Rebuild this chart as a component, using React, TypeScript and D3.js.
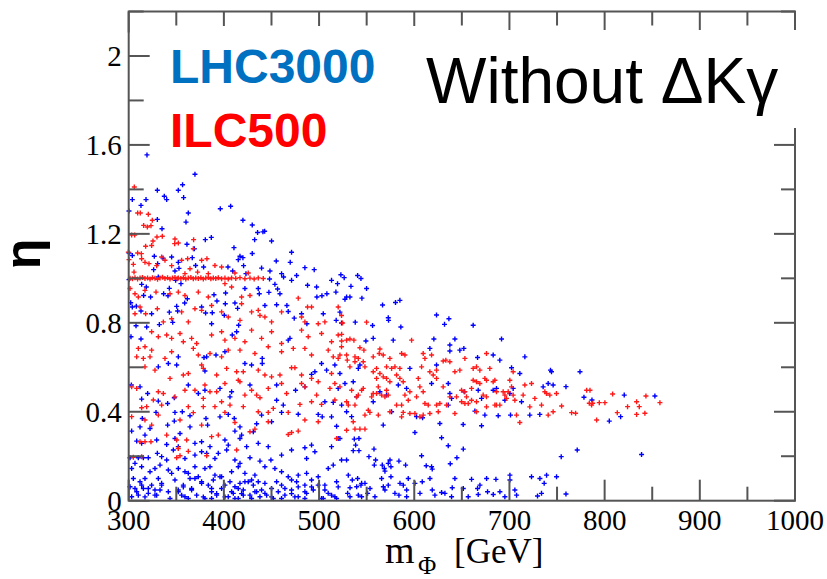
import React from "react";
import * as d3 from "d3";

// ---------- data (m_Phi [GeV], eta) ----------
const lhc3000Upper: [number, number][] = [
  [319.2,1.555],[369.6,1.468],[356.6,1.421],[352.1,1.396],[330.1,1.396],[303.8,1.354],[318.2,1.354],[337.4,1.369],[339.9,1.354],[357.7,1.363],
  [312.9,1.328],[300.3,1.303],[362.6,1.294],[396.2,1.313],[407.1,1.324],[330.1,1.265],[360.2,1.253],[420.0,1.261],[335.0,1.223],[429.8,1.240],
  [435.4,1.206],[441.0,1.209],[442.8,1.212],[380.5,1.174],[386.8,1.184],[432.3,1.174],[450.1,1.168],[361.2,1.153],[410.6,1.138],[471.1,1.117],
  [429.8,1.112],[368.9,1.133],[300.3,1.114],[303.8,1.103],[326.9,1.099],[345.1,1.096],[336.0,1.091],[366.8,1.093],[416.9,1.099],[420.0,1.093],
  [415.1,1.084],[455.0,1.078],[469.7,1.072],[485.1,1.048],[494.9,1.039],[439.6,1.046],[448.4,1.033],[404.3,1.051],[409.2,1.033],[420.7,1.057],
  [423.2,1.021],[352.1,1.072],[352.8,1.045],[348.6,1.033],[378.7,1.051],[370.3,1.058],[330.4,1.066],[326.2,1.039],[460.6,1.021],[476.4,1.013],
  [462.7,1.006],[471.1,0.991],[487.9,0.969],[448.0,0.997],[453.6,0.973],[456.4,0.952],[458.9,0.931],[436.1,0.954],[437.2,0.931],[447.3,0.937],
  [497.4,0.961],[497.7,0.916],[503.0,0.922],[513.1,0.991],[519.4,0.976],[522.9,1.016],[526.4,1.003],[517.7,0.938],[508.2,0.931],[300.3,0.994],
  [331.1,1.006],[313.6,0.973],[318.5,0.961],[342.7,0.955],[349.3,0.991],[354.9,0.976],[336.7,0.931],[341.3,0.922],[315.7,0.923],[323.0,0.916],
  [302.1,0.890],[303.8,0.871],[308.0,0.875],[361.6,0.908],[358.8,0.889],[389.6,0.926],[401.8,0.934],[422.1,0.954],[387.8,0.845],[392.7,0.898],
  [401.5,0.886],[411.6,0.889],[312.9,0.853],[324.1,0.841],[342.7,0.848],[350.4,0.874],[351.4,0.853],[346.2,0.802],[376.6,0.871],[380.8,0.844],
  [400.4,0.834],[414.4,0.865],[443.1,0.878],[455.4,0.881],[466.2,0.878],[467.6,0.851],[473.9,0.821],[481.6,0.841],[487.2,0.796],[504.4,0.841],
  [518.0,0.811],[523.6,0.799],[307.7,0.787],[318.9,0.781],[332.2,0.792],[387.1,0.796],[415.5,0.789],
  [540.5,1.013],[544.0,0.999],[533.5,0.964],[549.9,0.954],[527.2,0.906],[528.9,0.916],[532.4,0.916],[545.0,0.911],[566.7,0.880],[580.3,0.891],
  [584.9,0.901],[521.9,0.848],[538.0,0.803],[556.2,0.788],[572.7,0.823],[573.0,0.811],[585.9,0.781],[623.4,0.835],[636.4,0.818],[631.8,0.793],
  [661.9,0.789],
];

const lhc3000MidLeft: [number, number][] = [
  [302.4,0.737],[312.9,0.727],[352.1,0.647],[379.1,0.644],[381.9,0.647],[391.7,0.655],[401.1,0.670],[408.8,0.745],[413.4,0.760],[422.1,0.617],
  [429.1,0.610],[440.3,0.640],[440.3,0.617],[467.6,0.722],[469.4,0.730],[502.6,0.617],[507.9,0.587],[516.6,0.610],[495.6,0.580],[492.1,0.568],
  [341.6,0.617],[331.1,0.602],[350.4,0.610],[380.1,0.583],[362.6,0.520],[380.1,0.497],[373.1,0.482],[395.9,0.505],[408.1,0.490],[406.4,0.467],
  [427.4,0.520],[455.4,0.520],[462.4,0.430],[455.4,0.452],[475.3,0.497],[485.1,0.512],[506.1,0.445],[520.1,0.505],[514.9,0.442],[302.8,0.520],
  [311.9,0.512],[319.9,0.482],[313.6,0.457],[331.1,0.448],[340.9,0.437],[347.9,0.463],[328.7,0.397],[348.6,0.397],[356.3,0.400],[364.4,0.382],
  [381.2,0.370],[395.9,0.377],[404.6,0.388],[410.9,0.370],[416.9,0.332],[434.4,0.346],[439.6,0.385],[450.1,0.355],[460.6,0.397],[478.1,0.389],
  [499.1,0.388],[503.3,0.377],[513.1,0.377],[518.4,0.335],[314.3,0.370],[303.1,0.313],[311.9,0.332],[322.4,0.325],[340.9,0.340],[347.9,0.358],
  [364.4,0.332],[382.9,0.340],[411.6,0.313],[418.6,0.295],[430.9,0.310],[317.1,0.295],[353.9,0.302],
];

const lhc3000LowLeft: [number, number][] = [
  [308.4,0.268],[313.6,0.258],[329.4,0.273],[339.9,0.253],[348.6,0.280],[352.1,0.243],[369.6,0.258],[376.6,0.265],[385.4,0.243],[401.1,0.273],
  [404.6,0.250],[416.9,0.280],[436.1,0.258],[446.6,0.243],[492.1,0.250],[520.1,0.280],[513.1,0.243],
  [301.4,0.193],[310.1,0.193],[315.4,0.193],[320.6,0.193],[330.1,0.213],[334.6,0.198],[339.9,0.183],[346.9,0.228],[359.1,0.190],[369.6,0.205],
  [376.6,0.220],[381.9,0.213],[390.6,0.190],[394.1,0.213],[402.9,0.228],[411.6,0.183],[416.9,0.168],[423.9,0.243],[427.4,0.193],[437.9,0.178],
  [449.4,0.183],[460.6,0.205],[471.1,0.228],[485.1,0.238],[486.9,0.190],[495.6,0.220],[514.9,0.160],[523.6,0.183],
  [303.1,0.145],[306.6,0.168],[313.6,0.153],[322.4,0.130],[327.6,0.145],[332.9,0.160],[341.6,0.138],[345.1,0.123],[352.1,0.145],[359.1,0.130],
  [362.6,0.123],[369.6,0.153],[373.1,0.108],[380.1,0.145],[385.4,0.153],[390.6,0.115],[397.6,0.108],[408.1,0.130],[415.1,0.153],[422.1,0.123],
  [432.6,0.115],[443.1,0.153],[453.6,0.145],[460.6,0.130],[467.6,0.108],[478.1,0.115],[486.9,0.123],[499.1,0.108],[509.6,0.145],
  [301.4,0.063],[304.9,0.100],[311.9,0.085],[317.1,0.100],[324.1,0.070],[331.1,0.100],[334.6,0.078],[348.6,0.093],[357.4,0.070],[364.4,0.100],
  [369.6,0.100],[376.6,0.085],[383.6,0.070],[388.9,0.093],[395.9,0.108],[401.1,0.070],[406.4,0.085],[411.6,0.063],[416.9,0.078],[422.1,0.085],
  [429.1,0.093],[436.1,0.085],[443.1,0.078],[450.1,0.055],[460.6,0.070],[471.1,0.093],[476.4,0.085],[485.1,0.070],[492.1,0.093],[506.1,0.070],
  [518.4,0.085],
  [303.1,0.018],[308.4,0.040],[315.4,0.055],[320.6,0.033],[327.6,0.025],[332.9,0.048],[343.4,0.010],[352.1,0.040],[359.1,0.018],[366.1,0.048],
  [371.4,0.025],[380.1,0.010],[387.1,0.040],[392.4,0.025],[397.6,0.055],[404.6,0.018],[409.9,0.033],[415.1,0.010],[420.4,0.048],[427.4,0.025],
  [432.6,0.040],[437.9,0.018],[443.1,0.033],[451.9,0.010],[457.1,0.040],[464.1,0.025],[471.1,0.048],[478.1,0.018],[486.9,0.033],[493.9,0.048],
  [502.6,0.010],[509.6,0.033],[516.6,0.018],
  [301.4,0.062],[306.6,0.055],[313.6,0.070],[320.6,0.055],[327.6,0.048],[334.6,0.070],[341.6,0.040],[352.1,0.048],[357.4,0.062],[366.1,0.055],
  [376.6,0.078],[387.1,0.055],[392.4,0.032],[401.1,0.070],[408.1,0.040],[415.1,0.055],[420.4,0.025],[425.6,0.085],[430.9,0.070],[434.4,0.040],
  [439.6,0.048],[444.9,0.025],[455.4,0.085],[464.1,0.055],[471.1,0.032],[478.1,0.062],[485.1,0.040],[492.1,0.062],[499.1,0.070],[506.1,0.048],
  [513.1,0.025],[520.1,0.062],[310.1,0.025],[317.1,0.017],[329.4,0.025],[355.6,0.025],[362.6,0.010],[378.4,0.017],[387.1,0.010],[401.1,0.017],
  [411.6,0.010],[418.6,0.032],[429.1,0.010],[450.1,0.017],[460.6,0.010],[474.6,0.017],[485.1,0.010],[504.4,0.010],[518.4,0.010],
];

const lhc3000Right: [number, number][] = [
  [549.2,0.718],[556.9,0.730],[577.9,0.722],[620.6,0.727],[642.7,0.727],[691.7,0.727],[716.2,0.647],[682.9,0.655],[666.5,0.644],[689.9,0.632],
  [702.2,0.598],[710.9,0.572],[743.1,0.587],[744.2,0.580],[637.4,0.700],[647.9,0.677],[652.1,0.685],[637.4,0.673],[616.4,0.685],[623.4,0.610],
  [595.4,0.595],[583.2,0.520],[591.9,0.505],[618.2,0.527],[635.7,0.527],[637.4,0.482],[639.2,0.460],[652.5,0.490],[667.2,0.497],[670.7,0.460],
  [682.9,0.497],[686.4,0.505],[695.2,0.452],[700.4,0.482],[703.9,0.505],[712.7,0.445],[735.4,0.512],[740.7,0.527],[745.9,0.520],[521.9,0.572],
  [527.2,0.527],[535.9,0.535],[541.2,0.595],[542.9,0.610],[539.4,0.467],[528.9,0.400],[534.2,0.378],[523.7,0.430],[556.9,0.445],[563.9,0.490],
  [570.9,0.475],[576.2,0.400],[567.4,0.340],[602.4,0.378],[608.7,0.373],[635.7,0.430],[663.7,0.403],[674.2,0.385],[688.2,0.382],[701.1,0.385],
  [721.4,0.385],[731.9,0.388],[626.9,0.347],[651.4,0.343],[670.7,0.337],[600.7,0.307],[521.9,0.280],
  [537.0,0.277],[541.9,0.280],[538.4,0.250],[535.9,0.225],[541.9,0.225],[528.9,0.183],[552.4,0.198],[557.7,0.232],[559.4,0.183],[558.0,0.160],
  [566.4,0.160],[568.5,0.145],[574.5,0.183],[572.7,0.168],[575.5,0.153],[569.2,0.133],[583.9,0.178],[590.9,0.160],[607.7,0.202],[612.6,0.157],
  [618.2,0.153],[618.9,0.142],[628.7,0.283],[635.7,0.247],[651.5,0.232],[644.8,0.193],[637.8,0.166],
  [530.7,0.115],[534.9,0.093],[540.5,0.100],[544.7,0.078],[548.2,0.078],[532.5,0.058],[539.5,0.063],[544.0,0.070],[551.0,0.033],[553.5,0.055],
  [558.7,0.018],[530.0,0.033],[532.5,0.018],[541.2,0.025],[544.7,0.018],[565.7,0.100],[567.5,0.063],[569.2,0.048],[572.7,0.070],[575.5,0.108],
  [579.7,0.033],[583.9,0.025],[585.0,0.078],[588.5,0.070],[593.7,0.100],[592.0,0.048],[592.0,0.018],[600.7,0.078],[606.0,0.033],[608.4,0.085],
  [616.5,0.100],[618.9,0.048],[621.7,0.025],[628.7,0.037],[632.2,0.033],[639.2,0.018],[639.9,0.058],[642.7,0.100],[651.5,0.055],[656.7,0.018],
  [660.2,0.096],[666.5,0.055],[669.0,0.070],[667.2,0.028],[676.0,0.100],[677.0,0.040],[683.0,0.028],[685.8,0.096],[690.0,0.040],[695.2,0.018],
  [700.5,0.115],[700.5,0.093],[705.7,0.048],[707.5,0.025],[723.2,0.108],[729.5,0.021],[733.7,0.033],[732.0,0.100],[736.5,0.078],[739.0,0.115],
  [749.5,0.108],
  [774.1,0.580],[778.3,0.465],[786.7,0.453],[804.9,0.358],[816.8,0.378],[820.6,0.475],[852.8,0.471],[838.8,0.208],[771.2,0.228],[754.4,0.198],
  [759.4,0.513],[759.4,0.030],
];

const ilc500Upper: [number, number][] = [
  [305.9,1.411],[309.4,1.294],[312.2,1.294],[320.6,1.288],[324.8,1.261],[315.7,1.238],[319.6,1.231],[323.4,1.237],[329.7,1.186],[335.3,1.189],
  [348.6,1.177],[348.3,1.156],[352.1,1.159],[368.2,1.174],[325.5,1.168],[317.8,1.144],[324.1,1.148],[306.3,1.195],[303.1,1.195],[309.4,1.114],
  [313.3,1.111],[299.6,1.118],[313.6,1.088],[300.3,1.084],[304.9,1.063],[317.1,1.072],[321.3,1.066],[329.4,1.057],[334.6,1.096],[338.1,1.081],
  [345.1,1.057],[355.6,1.081],[361.9,1.088],[367.9,1.133],[376.6,1.081],[382.2,1.088],[390.6,1.058],[397.6,1.051],[372.4,1.028],[364.4,1.043],
  [359.1,1.021],[383.6,1.021],[411.6,1.024],[425.6,1.024],[305.6,1.028],
  [301.4,1.000],[304.0,0.998],[306.6,1.003],[309.3,0.997],[311.9,1.001],[314.5,1.004],[317.1,0.999],[319.8,1.002],[322.4,0.997],[325.0,1.003],
  [327.6,1.000],[330.3,0.996],[332.9,1.002],[335.5,1.005],[338.1,0.999],[340.8,1.003],[343.4,0.997],[346.0,1.001],[348.6,1.004],[351.0,0.998],
  [352.1,1.002],[354.8,0.999],[357.4,1.003],[360.0,0.997],[362.6,1.001],[365.3,1.004],[367.9,0.998],[370.5,1.002],[373.1,0.999],[375.8,1.003],
  [378.4,0.997],[381.0,1.001],[383.6,1.004],[386.3,0.998],[388.9,1.002],[391.5,0.999],[394.1,1.003],[397.6,0.998],[401.1,1.001],[404.6,0.997],
  [408.1,1.002],[412.5,0.999],[416.9,1.003],[422.1,0.998],[427.4,1.001],[431.8,0.997],[436.1,1.002],[441.4,0.999],
  [301.4,0.954],[306.6,0.931],[310.1,0.916],[317.1,0.946],[328.7,0.938],[343.4,0.931],[352.1,0.938],[359.1,0.923],[373.1,0.938],[383.6,0.916],
  [401.1,0.976],[408.1,0.961],[418.6,0.916],[427.4,0.923],[306.6,0.841],[311.9,0.871],[317.8,0.841],[330.1,0.863],[336.4,0.804],[345.1,0.818],
  [355.6,0.849],[362.6,0.804],[369.6,0.863],[376.6,0.856],[387.1,0.878],[397.6,0.849],[404.6,0.826],[418.6,0.886],[416.9,0.811],[429.1,0.849],
  [436.1,0.856],[437.9,0.833],[443.1,0.826],[460.6,0.849],[450.1,0.804],[478.1,0.911],[487.9,0.871],[481.6,0.826],[485.1,0.804],[492.1,0.871],
  [499.1,0.796],[506.1,0.804],[520.1,0.871],[523.6,0.833],[524.7,0.799],[549.9,0.803],
];

const ilc500LowLeft: [number, number][] = [
  [324.1,0.760],[331.1,0.737],[339.9,0.745],[345.1,0.730],[353.9,0.752],[357.4,0.715],[366.1,0.730],[371.4,0.707],[387.1,0.745],[397.6,0.760],
  [401.1,0.722],[411.6,0.730],[422.1,0.715],[429.1,0.767],[439.6,0.730],[450.1,0.760],[460.6,0.707],[481.6,0.767],[488.6,0.737],[502.6,0.752],
  [513.1,0.715],[520.1,0.745],[317.1,0.692],[310.1,0.685],[324.1,0.677],[308.4,0.647],[315.4,0.640],[322.4,0.647],[338.1,0.640],[345.1,0.670],
  [367.9,0.685],[373.1,0.655],[385.4,0.662],[397.6,0.647],[404.6,0.677],[416.9,0.677],[432.6,0.662],[446.6,0.692],[460.6,0.670],[472.9,0.685],
  [485.1,0.685],[492.1,0.655],[509.6,0.677],[514.9,0.647],[520.1,0.640],[523.6,0.692],[317.1,0.602],[327.6,0.587],[343.4,0.550],[357.4,0.565],
  [362.6,0.572],[376.6,0.610],[378.4,0.595],[392.4,0.565],[402.9,0.595],[413.4,0.580],[420.4,0.580],[436.1,0.587],[443.1,0.565],[450.1,0.557],
  [458.9,0.565],[471.1,0.598],[474.6,0.598],[481.6,0.565],[492.1,0.550],[499.1,0.535],[513.1,0.572],[303.1,0.512],[308.4,0.505],[331.1,0.490],
  [336.4,0.482],[348.6,0.467],[359.1,0.497],[369.6,0.497],[380.1,0.520],[378.4,0.460],[385.4,0.490],[392.4,0.490],[401.1,0.527],[415.1,0.542],
  [416.9,0.535],[422.1,0.475],[429.1,0.497],[434.4,0.475],[437.9,0.463],[446.6,0.505],[460.6,0.527],[465.9,0.482],[481.6,0.527],[485.1,0.512],
  [497.4,0.475],[511.4,0.505],[521.9,0.512],[516.6,0.527],[313.6,0.418],[318.9,0.423],[325.9,0.453],[334.6,0.430],[362.6,0.423],[367.9,0.396],
  [378.4,0.423],[390.6,0.423],[397.6,0.445],[401.1,0.397],[406.4,0.430],[420.4,0.423],[436.1,0.400],[446.6,0.397],[451.9,0.415],[467.6,0.397],
  [479.9,0.433],[492.1,0.445],[502.6,0.433],[516.6,0.453],[303.1,0.378],[317.1,0.363],[324.1,0.340],[331.1,0.385],[339.9,0.295],[350.4,0.273],
  [353.9,0.363],[360.9,0.273],[376.6,0.340],[387.1,0.288],[394.1,0.295],[411.6,0.352],[427.4,0.310],[432.6,0.322],[446.6,0.355],[467.6,0.298],
  [471.1,0.307],[478.1,0.313],[485.1,0.363],[499.1,0.355],[518.4,0.280],[311.9,0.265],[317.1,0.265],[323.4,0.265],[352.1,0.235],[313.6,0.198],
  [362.6,0.222],[350.4,0.193],[353.9,0.202],[381.9,0.202],[413.4,0.228],[304.9,0.195],
];

const ilc500Right: [number, number][] = [
  [523.7,0.748],[523.7,0.718],[528.9,0.722],[532.4,0.727],[536.6,0.722],[542.9,0.688],[547.1,0.677],[521.9,0.655],[528.9,0.655],[529.6,0.632],
  [537.7,0.647],[541.2,0.640],[537.7,0.625],[532.4,0.602],[546.4,0.625],[548.2,0.602],[556.9,0.647],[563.9,0.682],[563.2,0.662],[567.4,0.655],
  [574.4,0.640],[570.9,0.602],[576.2,0.595],[579.7,0.602],[560.4,0.595],[556.9,0.580],[563.9,0.572],[567.4,0.557],[570.9,0.550],[581.4,0.565],
  [584.9,0.550],[588.4,0.535],[560.4,0.550],[574.4,0.535],[586.7,0.662],[590.2,0.655],[584.9,0.595],[597.2,0.722],[609.4,0.662],[611.2,0.640],
  [618.2,0.655],[607.7,0.602],[616.4,0.580],[619.9,0.565],[623.4,0.587],[630.4,0.628],[633.2,0.632],[637.4,0.625],[642.7,0.580],[647.9,0.587],
  [653.2,0.640],[623.4,0.550],[604.2,0.550],[605.9,0.512],[595.4,0.490],[590.2,0.475],[593.7,0.452],[602.4,0.467],[609.4,0.490],[611.2,0.437],
  [614.7,0.430],[623.4,0.430],[626.9,0.437],[616.4,0.392],[625.2,0.400],[605.9,0.377],[600.7,0.392],[595.4,0.392],[609.4,0.385],[588.4,0.397],
  [586.7,0.377],[586.7,0.430],[581.4,0.430],[574.4,0.400],[562.2,0.385],[548.2,0.385],[551.7,0.407],[553.4,0.397],[539.4,0.467],[537.7,0.430],
  [528.9,0.445],[530.7,0.430],[534.2,0.497],[541.2,0.475],[544.7,0.497],[546.4,0.505],[556.9,0.482],[560.4,0.482],[565.7,0.475],[569.2,0.467],
  [572.7,0.475],[570.9,0.497],[562.2,0.512],[555.2,0.467],[535.9,0.355],[528.9,0.317],[537.7,0.322],[542.9,0.322],[548.2,0.322],[642.7,0.392],
  [633.9,0.430],[637.4,0.467],[644.4,0.467],[649.7,0.497],[653.2,0.490],[654.9,0.467],[649.7,0.445],[653.2,0.437],[656.7,0.437],[660.2,0.452],
  [665.4,0.445],[665.4,0.400],[672.4,0.475],[675.9,0.467],[675.9,0.422],[684.7,0.430],[686.4,0.430],[689.9,0.430],[660.2,0.505],[661.9,0.542],
  [665.4,0.535],[668.9,0.527],[674.2,0.550],[675.9,0.542],[682.9,0.535],[686.4,0.490],[693.4,0.490],[695.2,0.475],[696.9,0.460],[698.7,0.490],
  [703.9,0.475],[705.7,0.452],[707.4,0.385],[710.9,0.352],[714.4,0.475],[716.2,0.520],[723.2,0.527],[721.4,0.422],[726.7,0.460],[733.7,0.430],
  [737.2,0.490],[738.9,0.482],[742.4,0.475],[745.9,0.400],[749.4,0.482],[740.7,0.385],[661.9,0.595],[665.4,0.602],[668.9,0.587],[675.9,0.662],
  [679.4,0.595],[703.9,0.580],[684.7,0.542],[700.4,0.542],[702.2,0.512],[630.4,0.512],
  [754.8,0.426],[765.3,0.396],[769.5,0.393],[781.1,0.497],[784.6,0.497],[783.9,0.438],[787.4,0.438],[786.3,0.430],[791.6,0.363],[794.4,0.441],
  [800.3,0.441],[808.4,0.480],[813.3,0.396],[824.1,0.423],[833.6,0.445],[836.4,0.423],[833.6,0.388],[842.3,0.393],[843.4,0.471],[858.1,0.441],
];

const lhc3000 = [...lhc3000Upper, ...lhc3000MidLeft, ...lhc3000LowLeft, ...lhc3000Right];
const ilc500 = [...ilc500Upper, ...ilc500LowLeft, ...ilc500Right];

const xTickLabels = [300, 400, 500, 600, 700, 800, 900, 1000];
const yTickLabels = [0, 0.4, 0.8, 1.2, 1.6, 2];
const xMinorTicks = [350, 450, 550, 650, 750, 850, 950];
const yMinorTicks = [0.2, 0.6, 1.0, 1.4, 1.8, 2.2];

// ---------- layout ----------
const W = 827;
const H = 579;
const x = d3.scaleLinear().domain([300, 1000]).range([128.7, 795]);
const y = d3.scaleLinear().domain([0, 2.2]).range([500.7, 11.5]);

const SERIF = "'Liberation Serif', 'Times New Roman', serif";
const SANS = "'Liberation Sans', Arial, sans-serif";
const AXIS = "#555";

function crossPath(pts: [number, number][], r: number) {
  return pts
    .map(([m, e]) => {
      const cx = x(m);
      const cy = y(e);
      return `M${(cx - r).toFixed(2)},${cy.toFixed(2)}h${2 * r}M${cx.toFixed(2)},${(cy - r).toFixed(2)}v${2 * r}`;
    })
    .join("");
}

export default function App() {
  const x0 = x(300), x1 = x(1000), y0 = y(0), y1 = y(2.2);
  const MAJ = 21, MIN = 14;
  return (
    <svg
      width={W}
      height={H}
      viewBox={`0 0 ${W} ${H}`}
      style={{ position: "absolute", left: 0, top: 0, background: "#fff" }}
    >
      <rect x={0} y={0} width={W} height={H} fill="#fff" />
      {/* points */}
      <path d={crossPath(lhc3000, 2.5)} stroke="#0000ff" strokeWidth={1.4} fill="none" />
      <path d={crossPath(ilc500, 2.5)} stroke="#ff1a1a" strokeWidth={1.4} fill="none" />

      {/* ticks */}
      <g stroke={AXIS} strokeWidth={2}>
        {xTickLabels.map((v) => (
          <g key={"xM" + v}>
            <line x1={x(v)} x2={x(v)} y1={y0} y2={y0 - MAJ} />
            <line x1={x(v)} x2={x(v)} y1={y1} y2={y1 + MAJ} />
          </g>
        ))}
        {xMinorTicks.map((v) => (
          <g key={"xm" + v}>
            <line x1={x(v)} x2={x(v)} y1={y0} y2={y0 - MIN} />
            <line x1={x(v)} x2={x(v)} y1={y1} y2={y1 + MIN} />
          </g>
        ))}
        {yTickLabels.map((v) => (
          <g key={"yM" + v}>
            <line x1={x0} x2={x0 + MAJ} y1={y(v)} y2={y(v)} />
            <line x1={x1} x2={x1 - MAJ} y1={y(v)} y2={y(v)} />
          </g>
        ))}
        {yMinorTicks.map((v) => (
          <g key={"ym" + v}>
            <line x1={x0} x2={x0 + MIN + 1} y1={y(v)} y2={y(v)} />
            <line x1={x1} x2={x1 - MIN} y1={y(v)} y2={y(v)} />
          </g>
        ))}
      </g>
      <rect x={x0} y={y1} width={x1 - x0} height={y0 - y1} fill="none" stroke={AXIS} strokeWidth={2} />

      {/* label boxes that mask the frame */}
      <rect x={150} y={26} width={280} height={122} fill="#fff" />
      <rect x={430} y={30} width={372} height={98} fill="#fff" />

      {/* tick labels */}
      <g fontFamily={SERIF} fontSize={29} fill="#000">
        {xTickLabels.map((v) => (
          <text key={"xl" + v} x={x(v)} y={y0 + 29} textAnchor="middle">
            {v}
          </text>
        ))}
        {yTickLabels.map((v) => (
          <text key={"yl" + v} x={x0 - 7} y={y(v) + 10} textAnchor="end">
            {v}
          </text>
        ))}
      </g>

      {/* axis titles */}
      <g fontFamily={SERIF} fill="#000">
        <text x={385} y={563} fontSize={38}>m</text>
        <text x={418} y={574} fontSize={25}>Φ</text>
        <text x={454} y={563} fontSize={35}>[GeV]</text>
      </g>
      <text
        transform="translate(40,254) rotate(-90)"
        textAnchor="middle"
        fontFamily={SANS}
        fontWeight="bold"
        fontSize={50}
        fill="#000"
      >
        η
      </text>

      {/* legend */}
      <text x={170} y={83} fontFamily={SANS} fontWeight="bold" fontSize={48} fill="#0070c0">
        LHC3000
      </text>
      <text x={170} y={146.5} fontFamily={SANS} fontWeight="bold" fontSize={48} fill="#ff0000">
        ILC500
      </text>
      <text x={426} y={103} fontFamily={SANS} fontSize={64} fill="#000">
        Without ΔKγ
      </text>
    </svg>
  );
}
